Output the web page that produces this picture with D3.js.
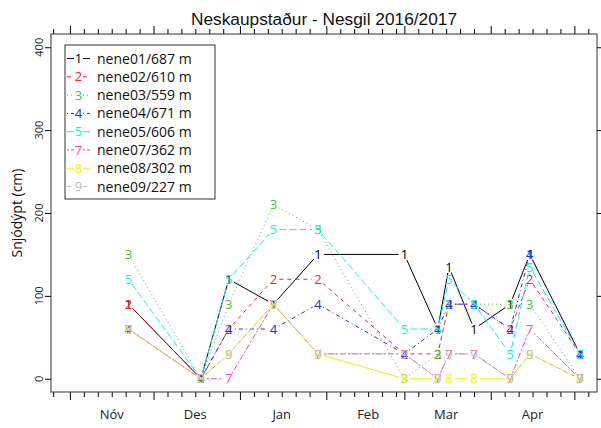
<!DOCTYPE html>
<html>
<head>
<meta charset="utf-8">
<script src="https://cdn.jsdelivr.net/npm/d3@7"></script>
<style>
  body { margin: 0; background: #fff; }
</style>
</head>
<body>
<div id="chart"></div>
<script>
// DATA (snow depth in cm, read from the stakes)
var obsDates = ["2016-11-22", "2016-12-18", "2016-12-28", "2017-01-13", "2017-01-29", "2017-03-01",
                "2017-03-13", "2017-03-17", "2017-03-26", "2017-04-08", "2017-04-15", "2017-05-03"];
var nene01 = [90, 0, 120, 90, 150, 150, 60, 135, 60, 90, 150, 30];
var nene02 = [90, 0, 60, 120, 120, 30, 30, 90, 90, 60, 120, 30];
var nene03 = [150, 0, 90, 210, 180, 0, 30, 90, 90, 90, 90, 0];
var nene04 = [60, 0, 60, 60, 90, 30, 60, 90, 90, 60, 150, 30];
var nene05 = [120, 0, 120, 180, 180, 60, 60, 120, 90, 30, 135, 30];
var nene07 = [60, 0, 0, 90, 30, 30, 0, 30, 30, 0, 60, 0];
var nene08 = [60, 0, 30, 90, 30, 0, 0, 0, 0, 0, 30, 0];
var nene09 = [60, 0, 30, 90, 30, 30, 0, 30, 30, 0, 30, 0];

var stationNames = ["nene01/687 m", "nene02/610 m", "nene03/559 m", "nene04/671 m",
                    "nene05/606 m", "nene07/362 m", "nene08/302 m", "nene09/227 m"];
var symbols = ["1", "2", "3", "4", "5", "7", "8", "9"];
var monthLabels = ["Nóv", "Des", "Jan", "Feb", "Mar", "Apr"];
var monthLabelDates = ["2016-11-16", "2016-12-16", "2017-01-16", "2017-02-16", "2017-03-16", "2017-04-16"];
var yTicks = [0, 100, 200, 300, 400];

// STYLES (R style colours and line types 1..6)
var colors = ["#000000", "#f5203f", "#45bf45", "#2a2ae0", "#14ecec", "#ef4fb4", "#f2ee10", "#bdbdbd"];
var dashes = [null, "4,4", "1,3", "1,3,4,3", "7,3", "2,2,6,2", null, "4,4"];

var series = [nene01, nene02, nene03, nene04, nene05, nene07, nene08, nene09];

var w = 601;
var h = 428;
var plotL = 51, plotR = 597, plotT = 34, plotB = 392;

var parse = d3.utcParse("%Y-%m-%d");

var svg = d3.select("#chart").append("svg")
  .attr("width", w)
  .attr("height", h)
  .style("font-family", "'Open Sans', sans-serif");

svg.append("rect").attr("width", w).attr("height", h).attr("fill", "#fff");

// SCALES
var x = d3.scaleUtc()
  .domain([Date.UTC(2016, 9, 25, 5), Date.UTC(2017, 4, 9, 3)])
  .range([plotL, plotR]);
var y = d3.scaleLinear()
  .domain([-16, 416])
  .range([plotB, plotT]);

// TICKS every 5 days (1, 6, 11, ...), long ones at month start
var tickDays = d3.utcDay.range(x.domain()[0], x.domain()[1]).filter(function (d) {
  return [1, 6, 11, 16, 21, 26].indexOf(d.getUTCDate()) >= 0;
});

var xBottom = d3.axisBottom(x).tickValues(tickDays).tickFormat("").tickSizeOuter(0)
  .tickSizeInner(5);
var gb = svg.append("g").attr("transform", "translate(0," + plotB + ")").call(xBottom);
gb.selectAll(".tick line").attr("y2", function (d) { return d.getUTCDate() === 1 ? 8 : 5; });

var xTop = d3.axisTop(x).tickValues(tickDays).tickFormat("").tickSizeOuter(0).tickSizeInner(5);
var gt = svg.append("g").attr("transform", "translate(0," + plotT + ")").call(xTop);
gt.selectAll(".tick line").attr("y2", function (d) { return d.getUTCDate() === 1 ? -8 : -5; });

svg.selectAll(".domain").remove();

// month labels
svg.selectAll(".month")
  .data(monthLabels)
  .enter()
  .append("text")
  .attr("x", function (d, i) { return x(parse(monthLabelDates[i])); })
  .attr("y", 419)
  .attr("text-anchor", "middle")
  .attr("font-size", "13px")
  .attr("fill", "#222")
  .text(function (d) { return d; });

// y axis
var yAxis = d3.axisLeft(y).tickValues(yTicks).tickSize(6).tickFormat("");
var gy = svg.append("g").attr("transform", "translate(" + plotL + ",0)").call(yAxis);
gy.select(".domain").remove();

var yRight = d3.axisRight(y).tickValues(yTicks).tickSize(5).tickFormat("");
var gr = svg.append("g").attr("transform", "translate(" + plotR + ",0)").call(yRight);
gr.select(".domain").remove();

svg.selectAll(".ylab")
  .data(yTicks)
  .enter()
  .append("text")
  .attr("transform", function (d) { return "translate(43," + y(d) + ") rotate(-90)"; })
  .attr("text-anchor", "middle")
  .attr("font-size", "11px")
  .attr("fill", "#222")
  .text(function (d) { return d; });

svg.append("text")
  .attr("transform", "translate(22," + ((plotT + plotB) / 2) + ") rotate(-90)")
  .attr("text-anchor", "middle")
  .attr("font-size", "14px")
  .attr("fill", "#111")
  .text("Snjódýpt (cm)");

// box
svg.append("rect")
  .attr("x", plotL).attr("y", plotT)
  .attr("width", plotR - plotL).attr("height", plotB - plotT)
  .attr("fill", "none").attr("stroke", "#333").attr("stroke-width", 1);

// title
svg.append("text")
  .attr("x", (plotL + plotR) / 2)
  .attr("y", 25)
  .attr("text-anchor", "middle")
  .style("font-family", "'Liberation Sans', Arial, sans-serif")
  .attr("font-size", "17.3px")
  .attr("fill", "#111")
  .text("Neskaupstaður - Nesgil 2016/2017");

// LINES + NUMBER SYMBOLS (type "b": lines stop short of the symbols)
var gap = 6;
series.forEach(function (vals, s) {
  var pts = vals.map(function (v, i) { return [x(parse(obsDates[i])), y(v)]; });
  var segs = [];
  for (var i = 0; i < pts.length - 1; i++) {
    var dx = pts[i + 1][0] - pts[i][0], dy = pts[i + 1][1] - pts[i][1];
    var len = Math.sqrt(dx * dx + dy * dy);
    if (len > 2 * gap) {
      var ux = dx / len, uy = dy / len;
      segs.push([pts[i][0] + gap * ux, pts[i][1] + gap * uy, pts[i + 1][0] - gap * ux, pts[i + 1][1] - gap * uy]);
    }
  }
  var g = svg.append("g").attr("class", "series");
  g.selectAll("line")
    .data(segs)
    .enter()
    .append("line")
    .attr("x1", function (d) { return d[0]; })
    .attr("y1", function (d) { return d[1]; })
    .attr("x2", function (d) { return d[2]; })
    .attr("y2", function (d) { return d[3]; })
    .attr("stroke", colors[s])
    .attr("stroke-width", 1)
    .attr("stroke-dasharray", dashes[s]);
  g.selectAll("text")
    .data(pts)
    .enter()
    .append("text")
    .attr("x", function (d) { return d[0]; })
    .attr("y", function (d) { return d[1]; })
    .attr("dy", "0.36em")
    .attr("text-anchor", "middle")
    .attr("font-size", "13px")
    .attr("fill", colors[s])
    .text(symbols[s]);
});

// LEGEND
var leg = svg.append("g");
leg.append("rect")
  .attr("x", 65).attr("y", 45).attr("width", 150).attr("height", 154)
  .attr("fill", "#fff").attr("stroke", "#333");
var rows = leg.selectAll(".row")
  .data(stationNames)
  .enter()
  .append("g")
  .attr("transform", function (d, i) { return "translate(0," + (58.5 + i * 18.3) + ")"; });
rows.append("line").attr("x1", 67).attr("x2", 74).attr("y1", 0).attr("y2", 0)
  .attr("stroke", function (d, i) { return colors[i]; })
  .attr("stroke-dasharray", function (d, i) { return dashes[i]; });
rows.append("line").attr("x1", 83).attr("x2", 90).attr("y1", 0).attr("y2", 0)
  .attr("stroke", function (d, i) { return colors[i]; })
  .attr("stroke-dasharray", function (d, i) { return dashes[i]; });
rows.append("text")
  .attr("x", 78.5).attr("dy", "0.36em")
  .attr("text-anchor", "middle")
  .attr("font-size", "13px")
  .attr("fill", function (d, i) { return colors[i]; })
  .text(function (d, i) { return symbols[i]; });
rows.append("text")
  .attr("x", 97).attr("dy", "0.36em")
  .attr("font-size", "14px")
  .attr("fill", "#111")
  .text(function (d) { return d; });
</script>
</body>
</html>
